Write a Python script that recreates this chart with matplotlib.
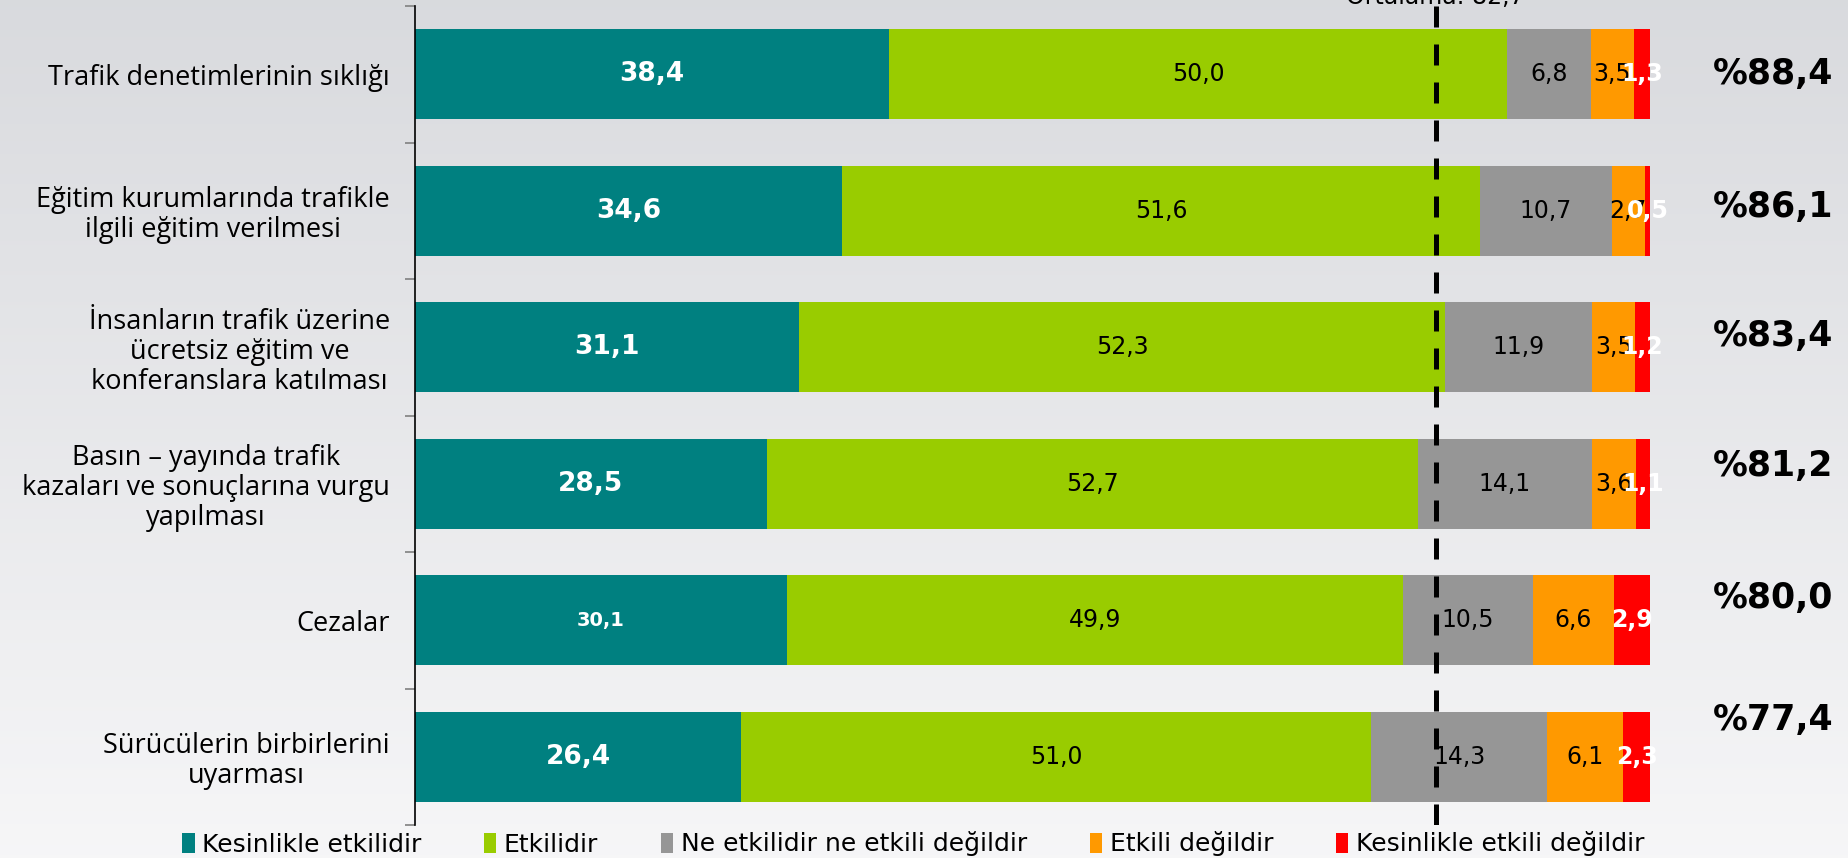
import numpy as np
import matplotlib
matplotlib.use("Agg")
import matplotlib.pyplot as plt
from matplotlib.patches import Patch
from matplotlib.ticker import NullFormatter

categories = [
    "Trafik denetimlerinin sıklığı",
    "Eğitim kurumlarında trafikle\nilgili eğitim verilmesi",
    "İnsanların trafik üzerine\nücretsiz eğitim ve\nkonferanslara katılması",
    "Basın – yayında trafik\nkazaları ve sonuçlarına vurgu\nyapılması",
    "Cezalar",
    "Sürücülerin birbirlerini\nuyarması",
]
series_names = ["Kesinlikle etkilidir", "Etkilidir", "Ne etkilidir ne etkili değildir",
                "Etkili değildir", "Kesinlikle etkili değildir"]
kesinlikle_etkili = [38.4, 34.6, 31.1, 28.5, 30.1, 26.4]
etkili = [50.0, 51.6, 52.3, 52.7, 49.9, 51.0]
ne_ne = [6.8, 10.7, 11.9, 14.1, 10.5, 14.3]
etkili_degil = [3.5, 2.7, 3.5, 3.6, 6.6, 6.1]
kesinlikle_degil = [1.3, 0.5, 1.2, 1.1, 2.9, 2.3]
totals = ["%88,4", "%86,1", "%83,4", "%81,2", "%80,0", "%77,4"]
average = 82.7
average_label = "Ortalama: 82,7"

colors = ["#008080", "#99CC00", "#969696", "#FF9900", "#FF0000"]
txt_colors = ["white", "black", "black", "black", "white"]
txt_weights = ["bold", "normal", "normal", "normal", "bold"]
txt_sizes = [19, 17, 17, 17, 17]
total_offsets = [0.0, -0.03, -0.08, -0.13, -0.16, -0.27]

fig = plt.figure(figsize=(18.49, 8.58), dpi=100)
# background gradient
bg = fig.add_axes([0, 0, 1, 1], zorder=-10)
grad = np.linspace(0, 1, 256).reshape(-1, 1)
top = np.array([0.85, 0.855, 0.87])
bot = np.array([0.965, 0.965, 0.97])
img = top[None, None, :] * (1 - grad[:, :, None]) + bot[None, None, :] * grad[:, :, None]
bg.imshow(img, aspect="auto", extent=[0, 1, 0, 1])
bg.axis("off")

ax = fig.add_axes([415 / 1849, 1 - 825 / 858, 1235 / 1849, (825 - 6) / 858])
ax.set_facecolor("none")

series = [kesinlikle_etkili, etkili, ne_ne, etkili_degil, kesinlikle_degil]
y = np.arange(len(categories))
left = np.zeros(len(categories))
for i, vals in enumerate(series):
    vals = np.array(vals)
    ax.barh(y, vals, left=left, height=0.66, color=colors[i], label=series_names[i], zorder=2)
    for j, v in enumerate(vals):
        size = txt_sizes[i]
        if i == 0 and j == 4:
            size = 14
        ax.text(left[j] + v / 2, y[j], f"{v:.1f}".replace(".", ","), ha="center", va="center",
                color=txt_colors[i], fontweight=txt_weights[i], fontsize=size,
                family="DejaVu Sans", zorder=5)
    left += vals

for j, t in enumerate(totals):
    ax.text(110, y[j] + total_offsets[j], t, ha="center", va="center", fontsize=25,
            fontweight="bold", family="DejaVu Sans", clip_on=False)

ax.axvline(average, color="black", lw=3.6, dashes=(4.2, 3.4), zorder=6)
ax.annotate(average_label, xy=(average, -0.5), xytext=(-1, 1.5), textcoords="offset points",
            ha="center", va="baseline", fontsize=17, family="DejaVu Sans", annotation_clip=False)

ax.set_xlim(0, 100)
ax.set_ylim(len(categories) - 0.5, -0.5)
ax.set_xticks([])
ax.set_yticks(np.arange(-0.5, len(categories), 1))
ax.yaxis.set_major_formatter(NullFormatter())
ax.tick_params(axis="y", which="major", length=7, color="#808080", width=1.2)
ax.set_yticks(y, minor=True)
ax.set_yticklabels(categories, minor=True, fontsize=19.5, family="Open Sans",
                   multialignment="center", linespacing=1.1)
ax.tick_params(axis="y", which="minor", length=0, pad=18)
for s in ["top", "right", "bottom"]:
    ax.spines[s].set_visible(False)
ax.spines["left"].set_color("black")
ax.spines["left"].set_linewidth(1.2)

handles = [Patch(facecolor=c, edgecolor="none") for c in colors]
leg = fig.legend(handles, series_names, loc="center left", bbox_to_anchor=(182 / 1849, 1 - 844 / 858),
                 ncol=5, frameon=False, borderpad=0, borderaxespad=0, handlelength=0.5,
                 handleheight=0.9, handletextpad=0.3, columnspacing=2.5,
                 prop={"family": "DejaVu Sans", "size": 18})

fig.savefig("out.png", dpi=100)
